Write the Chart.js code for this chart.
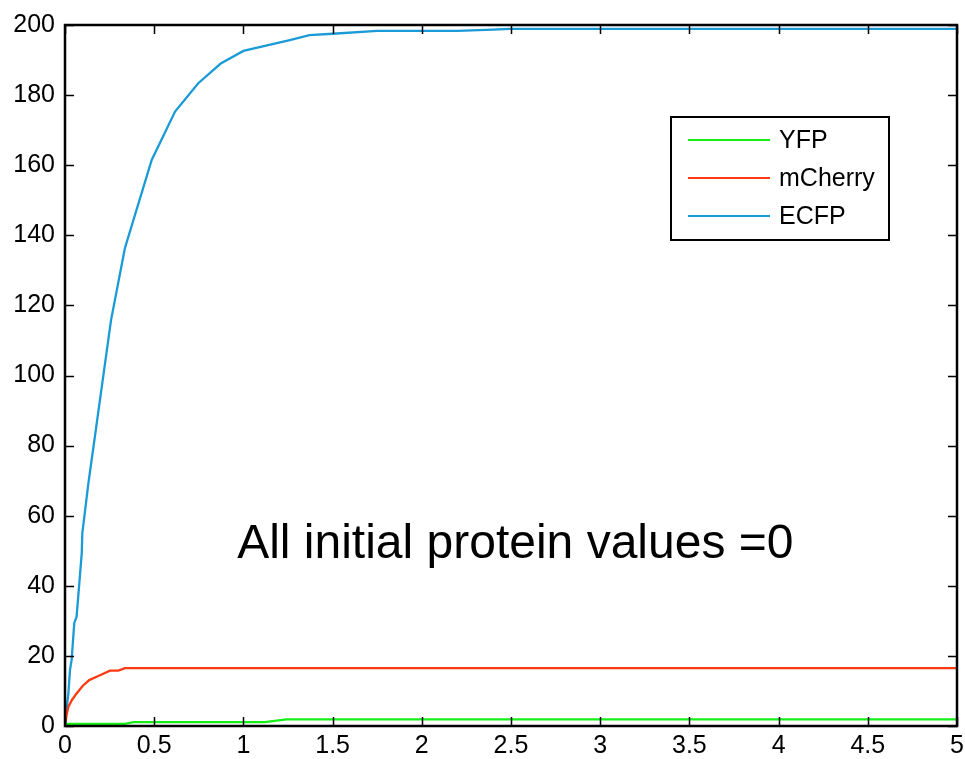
<!DOCTYPE html>
<html>
<head>
<meta charset="utf-8">
<script src="https://cdn.jsdelivr.net/npm/chart.js@4"></script>
<style>
  html, body { margin: 0; padding: 0; background: #fff; }
  #wrap { width: 965px; height: 759px; position: relative; }
</style>
</head>
<body>
<div id="wrap"><canvas id="c" width="965" height="759"></canvas></div>
<script>
// ---- Data ----
const seriesNames = ["YFP", "mCherry", "ECFP"];
const seriesColors = ["#16ef16", "#ff3a12", "#1a9ad6"];

const yfpT = [0, 0.336, 0.383, 1.12, 1.24, 5];
const yfpV = [0.6, 0.6, 1.1, 1.1, 1.9, 1.9];

const mcherryT = [0, 0.01, 0.019, 0.04, 0.065, 0.1, 0.136, 0.196, 0.252, 0.299, 0.336, 5];
const mcherryV = [0, 3.5, 5.5, 7.5, 9.3, 11.5, 13.1, 14.5, 15.8, 15.8, 16.5, 16.5];

const ecfpT = [0, 0.004, 0.019, 0.028, 0.037, 0.052, 0.065, 0.094, 0.097, 0.131, 0.178, 0.258, 0.336, 0.486, 0.617, 0.747, 0.873, 1.0, 1.26, 1.37, 1.5, 1.75, 2.2, 2.4, 2.49, 5];
const ecfpV = [0, 2.7, 9.4, 16, 18.8, 29.4, 31.2, 49.4, 55, 69.2, 86.4, 115.8, 136.4, 161.5, 175.3, 183.4, 189.0, 192.6, 195.7, 197.1, 197.5, 198.3, 198.3, 198.7, 198.9, 198.9];

const xTicks = [0, 0.5, 1, 1.5, 2, 2.5, 3, 3.5, 4, 4.5, 5];
const yTicks = [0, 20, 40, 60, 80, 100, 120, 140, 160, 180, 200];

const annotationText = "All initial protein values =0";
const annotationPos = { x: 2.524, y: 47.9 };

// ---- Build datasets ----
function pts(t, v) { return t.map((x, i) => ({ x: x, y: v[i] })); }
const seriesData = [pts(yfpT, yfpV), pts(mcherryT, mcherryV), pts(ecfpT, ecfpV)];

const FONT = "'Liberation Sans', Arial, Helvetica, sans-serif";

const boxPlugin = {
  id: 'matlabBox',
  afterDatasetsDraw(chart) {
    const ctx = chart.ctx;
    const a = chart.chartArea;
    const xs = chart.scales.x, ys = chart.scales.y;
    ctx.save();
    ctx.strokeStyle = '#000';
    ctx.lineWidth = 1.5;
    const tl = 9;
    ctx.beginPath();
    xTicks.forEach(v => {
      const px = Math.round(xs.getPixelForValue(v)) + 0.5;
      ctx.moveTo(px, a.bottom); ctx.lineTo(px, a.bottom - tl);
      ctx.moveTo(px, a.top); ctx.lineTo(px, a.top + tl);
    });
    yTicks.forEach(v => {
      const py = Math.round(ys.getPixelForValue(v)) + 0.5;
      ctx.moveTo(a.left, py); ctx.lineTo(a.left + tl, py);
      ctx.moveTo(a.right, py); ctx.lineTo(a.right - tl, py);
    });
    ctx.stroke();
    ctx.lineWidth = 2.5;
    ctx.strokeRect(a.left, a.top, a.right - a.left, a.bottom - a.top);

    // annotation text
    ctx.fillStyle = '#000';
    ctx.font = '48px ' + FONT;
    ctx.textAlign = 'center';
    ctx.textBaseline = 'alphabetic';
    ctx.fillText(annotationText, xs.getPixelForValue(annotationPos.x), ys.getPixelForValue(annotationPos.y));

    // legend box
    const lx = 671, ly = 117, lw = 218, lh = 123;
    ctx.fillStyle = '#fff';
    ctx.fillRect(lx, ly, lw, lh);
    ctx.lineWidth = 2;
    ctx.strokeStyle = '#000';
    ctx.strokeRect(lx, ly, lw, lh);
    const rows = [140, 178, 216];
    ctx.font = '25px ' + FONT;
    ctx.textAlign = 'left';
    ctx.textBaseline = 'middle';
    chart.data.datasets.forEach((ds, i) => {
      ctx.strokeStyle = ds.borderColor;
      ctx.lineWidth = 2;
      ctx.beginPath();
      ctx.moveTo(688, rows[i]); ctx.lineTo(770, rows[i]);
      ctx.stroke();
      ctx.fillStyle = '#000';
      ctx.fillText(ds.label, 779, rows[i] + 1);
    });
    ctx.restore();
  }
};

new Chart(document.getElementById('c'), {
  type: 'line',
  data: {
    datasets: seriesNames.map((n, i) => ({
      label: n,
      data: seriesData[i],
      borderColor: seriesColors[i],
      backgroundColor: seriesColors[i],
      borderWidth: 2.3,
      pointRadius: 0,
      tension: 0,
      fill: false
    }))
  },
  options: {
    responsive: false,
    animation: false,
    devicePixelRatio: 1,
    layout: { padding: { left: 0, right: 8, top: 25, bottom: 0 } },
    plugins: { legend: { display: false }, tooltip: { enabled: false } },
    scales: {
      x: {
        type: 'linear', min: 0, max: 5,
        afterFit(s) { s.height = 33; s.paddingRight = 0; s.paddingLeft = 0; },
        afterBuildTicks(s) { s.ticks = xTicks.map(v => ({ value: v })); },
        grid: { display: false, drawTicks: false },
        border: { display: false },
        ticks: {
          color: '#000', padding: 5,
          font: { family: FONT, size: 25 },
          maxRotation: 0, autoSkip: false,
          callback: v => String(v)
        }
      },
      y: {
        type: 'linear', min: 0, max: 200,
        afterFit(s) { s.width = 65; s.paddingTop = 0; s.paddingBottom = 0; },
        afterBuildTicks(s) { s.ticks = yTicks.map(v => ({ value: v })); },
        grid: { display: false, drawTicks: false },
        border: { display: false },
        ticks: {
          color: '#000', padding: 10,
          font: { family: FONT, size: 25 },
          autoSkip: false,
          callback: v => String(v)
        }
      }
    }
  },
  plugins: [boxPlugin]
});
</script>
</body>
</html>
